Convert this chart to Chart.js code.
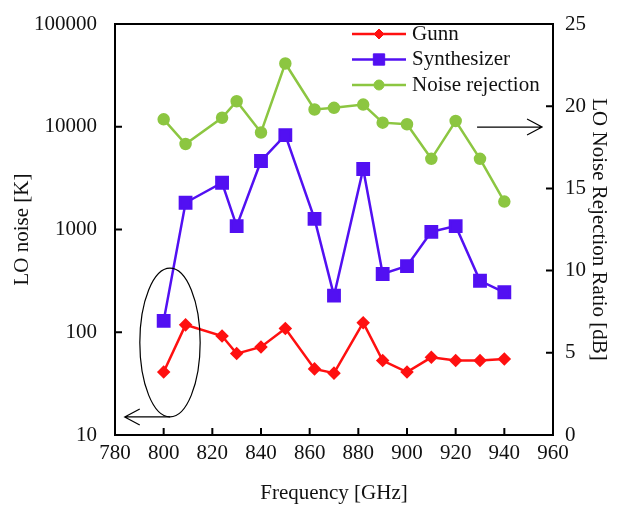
<!DOCTYPE html>
<html lang="en">
<head>
<meta charset="UTF-8">
<title>LO noise vs frequency</title>
<script src="https://cdn.jsdelivr.net/npm/chart.js"></script>
<style>
  body { margin: 0; background: #ffffff; }
  #wrap { width: 628px; height: 506px; }
</style>
</head>
<body>

<div id="wrap"><canvas id="loChart" width="628" height="506"></canvas></div>

<script>
// values
const freqs = [800, 809, 824, 830, 840, 850, 862, 870, 882, 890, 900, 910, 920, 930, 940];
const gunnNoise = [41, 118, 92, 62, 72, 109, 44, 40, 124, 53, 41, 57, 53, 53, 55];
const synthNoise = [129, 1820, 2850, 1080, 4640, 8300, 1270, 227, 3880, 369, 441, 950, 1080, 317, 245];
const rejectionDb = [19.2, 17.7, 19.3, 20.3, 18.4, 22.6, 19.8, 19.9, 20.1, 19.0, 18.9, 16.8, 19.1, 16.8, 14.2];
const leftTicks = [10, 100, 1000, 10000, 100000];

const RED = '#ff1010';
const BLUE = '#5210f2';
const GREEN = '#8cc641';
const FONT = "'Liberation Serif', 'DejaVu Serif', serif";

Chart.defaults.font.family = FONT;
Chart.defaults.font.size = 21;
Chart.defaults.color = '#111';

function pts(ys) {
    return freqs.map((f, i) => ({ x: f, y: ys[i] }));
}

// fixed axis boxes so the plot frame sits where it does in the figure
function fixBox(w, h) {
    return scale => {
        if (w) scale.width = w;
        if (h) scale.height = h;
        scale.paddingTop = 0; scale.paddingBottom = 0;
        scale.paddingLeft = 0; scale.paddingRight = 0;
    };
}

// frame, inward ticks, legend inside the plot and the two arrow notes
const decorations = {
    id: 'decorations',
    afterDraw(chart) {
        const { ctx, chartArea: a, scales } = chart;
        const xs = scales.x, yl = scales.y, yr = scales.y1;
        ctx.save();
        ctx.strokeStyle = '#000';
        ctx.lineWidth = 2;
        ctx.strokeRect(a.left, a.top, a.right - a.left, a.bottom - a.top);

        ctx.beginPath();
        xs.ticks.forEach(t => {
            const px = xs.getPixelForValue(t.value);
            ctx.moveTo(px, a.bottom); ctx.lineTo(px, a.bottom - 7);
        });
        yl.ticks.forEach(t => {
            const py = yl.getPixelForValue(t.value);
            ctx.moveTo(a.left, py); ctx.lineTo(a.left + 7, py);
        });
        yr.ticks.forEach(t => {
            const py = yr.getPixelForValue(t.value);
            ctx.moveTo(a.right, py); ctx.lineTo(a.right - 7, py);
        });
        ctx.stroke();

        // legend
        const lx = a.left + 237;
        chart.data.datasets.forEach((ds, i) => {
            const ly = a.top + 10 + i * 25.5;
            ctx.strokeStyle = ds.borderColor;
            ctx.lineWidth = ds.borderWidth;
            ctx.beginPath();
            ctx.moveTo(lx, ly); ctx.lineTo(lx + 54, ly);
            ctx.stroke();
            ctx.fillStyle = ds.pointBackgroundColor;
            ctx.strokeStyle = ds.pointBorderColor;
            ctx.lineWidth = 1;
            Chart.helpers.drawPoint(ctx, { pointStyle: ds.pointStyle, radius: ds.pointRadius, rotation: 0, borderWidth: 1 }, lx + 27, ly);
            ctx.fillStyle = '#111';
            ctx.font = '21px ' + FONT;
            ctx.textBaseline = 'middle';
            ctx.textAlign = 'left';
            ctx.fillText(ds.label, lx + 60, ly);
        });

        // ellipse round the low-frequency points, arrow to the left axis
        ctx.strokeStyle = '#000';
        ctx.lineWidth = 1.2;
        const ex = xs.getPixelForValue(802.6);
        const eTop = yl.getPixelForValue(420), eBot = yl.getPixelForValue(15);
        const eRx = xs.getPixelForValue(815) - ex;
        ctx.beginPath();
        ctx.ellipse(ex, (eTop + eBot) / 2, eRx, (eBot - eTop) / 2, 0, 0, Math.PI * 2);
        ctx.stroke();
        const tipL = xs.getPixelForValue(784);
        ctx.beginPath();
        ctx.moveTo(ex, eBot); ctx.lineTo(tipL, eBot);
        ctx.moveTo(tipL + 15, eBot - 8); ctx.lineTo(tipL, eBot); ctx.lineTo(tipL + 15, eBot + 8);
        ctx.stroke();

        // arrow to the right axis
        const ay = yr.getPixelForValue(18.73);
        const ax0 = xs.getPixelForValue(928.8), ax1 = xs.getPixelForValue(955.5);
        ctx.beginPath();
        ctx.moveTo(ax0, ay); ctx.lineTo(ax1, ay);
        ctx.moveTo(ax1 - 15, ay - 8); ctx.lineTo(ax1, ay); ctx.lineTo(ax1 - 15, ay + 8);
        ctx.stroke();
        ctx.restore();
    }
};

new Chart(document.getElementById('loChart'), {
    type: 'line',
    data: {
        datasets: [
            {
                label: 'Gunn',
                data: pts(gunnNoise),
                yAxisID: 'y',
                borderColor: RED,
                backgroundColor: RED,
                pointBackgroundColor: RED,
                pointBorderColor: RED,
                pointStyle: 'rectRot',
                pointRadius: 5,
                borderWidth: 2.5
            },
            {
                label: 'Synthesizer',
                data: pts(synthNoise),
                yAxisID: 'y',
                borderColor: BLUE,
                backgroundColor: BLUE,
                pointBackgroundColor: BLUE,
                pointBorderColor: BLUE,
                pointStyle: 'rect',
                pointRadius: 8,
                borderWidth: 2.5
            },
            {
                label: 'Noise rejection',
                data: pts(rejectionDb),
                yAxisID: 'y1',
                borderColor: GREEN,
                backgroundColor: GREEN,
                pointBackgroundColor: GREEN,
                pointBorderColor: GREEN,
                pointStyle: 'circle',
                pointRadius: 5,
                borderWidth: 2.5
            }
        ]
    },
    options: {
        responsive: false,
        animation: false,
        layout: { padding: { top: 24 } },
        plugins: {
            legend: { display: false },
            tooltip: { enabled: false }
        },
        scales: {
            x: {
                type: 'linear',
                min: 780,
                max: 960,
                grid: { display: false, drawTicks: false },
                border: { display: false },
                ticks: { stepSize: 20, padding: 6 },
                title: { display: true, text: 'Frequency [GHz]', padding: { top: 0, bottom: 0 } },
                afterFit: fixBox(0, 71)
            },
            y: {
                type: 'logarithmic',
                position: 'left',
                min: 10,
                max: 100000,
                grid: { display: false, drawTicks: false },
                border: { display: false },
                afterBuildTicks(scale) { scale.ticks = leftTicks.map(v => ({ value: v })); },
                ticks: { padding: 18, callback: v => String(v) },
                title: { display: true, text: 'LO noise [K]', padding: { top: 10 } },
                afterFit: fixBox(115, 0)
            },
            y1: {
                type: 'linear',
                position: 'right',
                min: 0,
                max: 25,
                grid: { display: false, drawTicks: false },
                border: { display: false },
                ticks: { stepSize: 5, padding: 12 },
                title: { display: true, text: 'LO Noise Rejection Ratio [dB]', padding: { top: 17 } },
                afterFit: fixBox(75, 0)
            }
        }
    },
    plugins: [decorations]
});
</script>

</body>
</html>
